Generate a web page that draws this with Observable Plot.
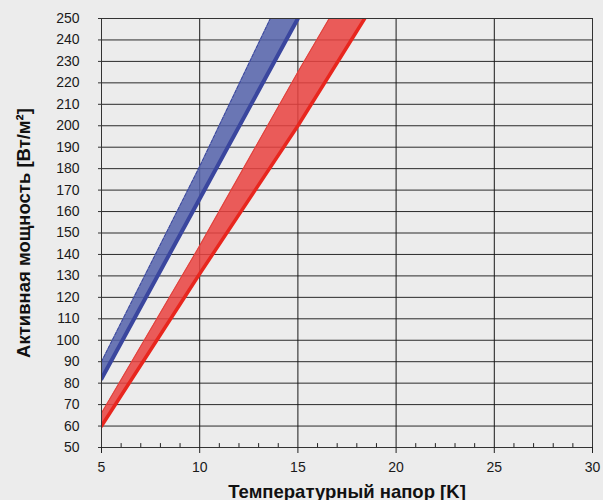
<!DOCTYPE html>
<html>
<head>
<meta charset="utf-8">
<script src="https://cdn.jsdelivr.net/npm/d3@7"></script>
<script src="https://cdn.jsdelivr.net/npm/@observablehq/plot@0.6"></script>
<style>
  html, body { margin: 0; padding: 0; background: #ececec; }
  #chart svg { display: block; }
</style>
</head>
<body>
<div id="chart"></div>
<script>
// Axis ticks
const xTicks = [5, 10, 15, 20, 25, 30];
const xMinorTicks = [6, 7, 8, 9, 11, 12, 13, 14, 16, 17, 18, 19, 21, 22, 23, 24, 26, 27, 28, 29];
const yTicks = [50, 60, 70, 80, 90, 100, 110, 120, 130, 140, 150, 160, 170, 180, 190, 200, 210, 220, 230, 240, 250];
const xDomain = [5, 30];
const yDomain = [50, 250];

// Blue band (lower edge = thick line, upper edge = thin dashed line)
const blueLowerX = [5, 10, 15];
const blueLowerY = [82, 166, 250];
const blueUpperX = [5, 10, 13.6];
const blueUpperY = [90, 181, 250];

// Red band
const redLowerX = [5, 10, 15, 18.4];
const redLowerY = [60, 131, 200, 250];
const redUpperX = [5, 10, 15, 16.6];
const redUpperY = [66, 144, 225, 250];

const xTitle = "Температурный напор [K]";
const yTitle = "Активная мощность [Вт/м²]";

const band = (lx, ly, ux, uy) => lx.map((_, i) => ({lx: lx[i], ly: ly[i], ux: ux[i], uy: uy[i]}));
const blueBand = band(blueLowerX, blueLowerY, blueUpperX, blueUpperY);
const redBand = band(redLowerX, redLowerY, redUpperX, redUpperY);

const tickLine = {draw(context, l) { context.moveTo(0, 0); context.lineTo(0, -l); }};

const chart = Plot.plot({
  width: 603,
  height: 500,
  marginLeft: 101,
  marginRight: 11,
  marginTop: 18,
  marginBottom: 53,
  style: {background: "#ececec", fontFamily: "'Liberation Sans', Arial, sans-serif", color: "#1a1a1a"},
  x: {domain: xDomain},
  y: {domain: yDomain},
  marks: [
    Plot.ruleY(yTicks, {stroke: "#2a2a2a", strokeWidth: 1}),
    Plot.ruleX(xTicks, {stroke: "#1a1a1a", strokeWidth: 1}),
    Plot.area(blueBand, {x1: "lx", y1: "ly", x2: "ux", y2: "uy", fill: "#5461aa", fillOpacity: 0.85, clip: true}),
    Plot.area(redBand, {x1: "lx", y1: "ly", x2: "ux", y2: "uy", fill: "#ea4240", fillOpacity: 0.85, clip: true}),
    Plot.line(blueBand, {x: "ux", y: "uy", stroke: "#3a469e", strokeWidth: 1, strokeDasharray: "3,2", clip: true}),
    Plot.line(redBand, {x: "ux", y: "uy", stroke: "#e0403a", strokeWidth: 1, clip: true}),
    Plot.line(blueBand, {x: "lx", y: "ly", stroke: "#3a469e", strokeWidth: 4, clip: true}),
    Plot.line(redBand, {x: "lx", y: "ly", stroke: "#e8261e", strokeWidth: 3.5, clip: true}),
    Plot.vector(xMinorTicks, {x: d => d, y: yDomain[0], length: 4, anchor: "start", shape: tickLine, stroke: "#222", strokeWidth: 1}),
    Plot.frame({stroke: "#333", strokeWidth: 1}),
    Plot.axisX(xTicks, {tickSize: 6, tickPadding: 9, fontSize: 14, label: null, stroke: "#222"}),
    Plot.axisY(yTicks, {tickSize: 3, tickPadding: 19, fontSize: 14, label: null, stroke: "#333"}),
    Plot.text([xTitle], {frameAnchor: "bottom", lineAnchor: "bottom", dy: 50, fontSize: 18.5, fontWeight: "bold", fill: "#111"}),
    Plot.text([yTitle], {frameAnchor: "left", textAnchor: "middle", rotate: -90, lineAnchor: "bottom", dx: -72, fontSize: 18.5, fontWeight: "bold", fill: "#111"})
  ]
});

document.getElementById("chart").append(chart);
</script>
</body>
</html>
